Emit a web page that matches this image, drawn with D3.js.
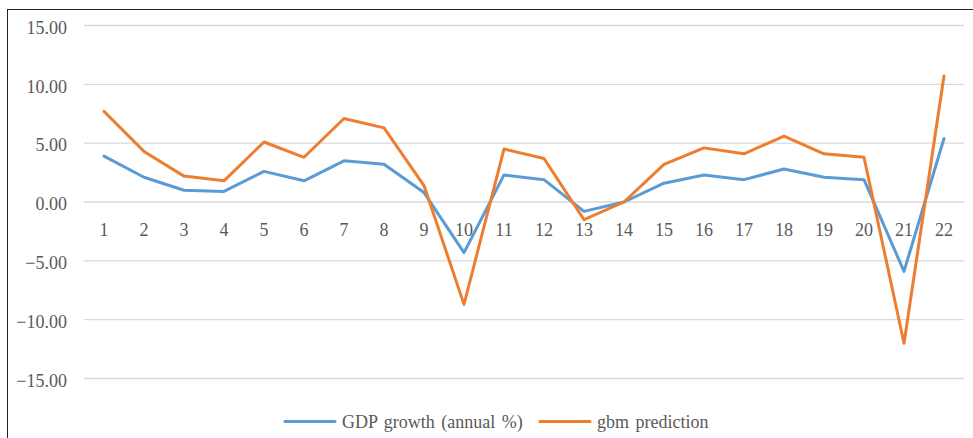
<!DOCTYPE html>
<html>
<head>
<meta charset="utf-8">
<script src="https://cdn.jsdelivr.net/npm/d3@7"></script>
<style>
  body { margin: 0; background: #fff; }
  svg text { font-family: "Liberation Serif", "DejaVu Serif", serif; fill: #595959; }
</style>
</head>
<body>
<div id="chart"></div>
<script>
// GDP growth vs gbm prediction, 22 periods
const categories = d3.range(1, 23).map(String);
const gdpGrowth = [3.9, 2.1, 1.0, 0.9, 2.6, 1.8, 3.5, 3.2, 0.8, -4.3, 2.3, 1.9, -0.8, 0.0, 1.6, 2.3, 1.9, 2.8, 2.1, 1.9, -5.9, 5.4];
const gbmPrediction = [7.7, 4.3, 2.2, 1.8, 5.1, 3.8, 7.1, 6.3, 1.4, -8.7, 4.5, 3.7, -1.5, 0.0, 3.2, 4.6, 4.1, 5.6, 4.1, 3.8, -12.0, 10.7];
const yTicks = [-15, -10, -5, 0, 5, 10, 15];
const seriesNames = ["GDP growth (annual %)", "gbm prediction"];
const colors = ["#5b9bd5", "#ed7d31"];

const W = 973, H = 438;
const svg = d3.select("#chart").append("svg").attr("width", W).attr("height", H);

// outer frame (right/bottom edges run off the picture)
svg.append("rect").attr("x", 7.5).attr("y", 9.5).attr("width", W).attr("height", H)
  .attr("fill", "none").attr("stroke", "#222").attr("stroke-width", 1);

const x = d3.scaleBand().domain(categories).range([84, 964]);
const y = d3.scaleLinear().domain([-15, 15]).range([378.5, 25.5]);

// gridlines
svg.append("g").selectAll("line").data(yTicks).join("line")
  .attr("x1", 84).attr("x2", 964)
  .attr("y1", d => y(d)).attr("y2", d => y(d))
  .attr("stroke", "#d9d9d9").attr("stroke-width", 1.3);

// y labels
svg.append("g").selectAll("text").data(yTicks).join("text")
  .attr("x", 67).attr("y", d => y(d) + 2).attr("dy", "0.35em")
  .attr("text-anchor", "end").attr("font-size", 18)
  .text(d => d3.format(".2f")(d));

// category labels sit just below the zero line
svg.append("g").selectAll("text").data(categories).join("text")
  .attr("x", d => x(d) + x.bandwidth() / 2).attr("y", y(0) + 34)
  .attr("text-anchor", "middle").attr("font-size", 18)
  .text(d => d);

const line = d3.line()
  .x((d, i) => x(categories[i]) + x.bandwidth() / 2)
  .y(d => y(d));

[gdpGrowth, gbmPrediction].forEach((vals, k) => {
  svg.append("path").datum(vals).attr("d", line)
    .attr("fill", "none").attr("stroke", colors[k]).attr("stroke-width", 3)
    .attr("stroke-linejoin", "round").attr("stroke-linecap", "round");
});

// legend
const legendX = [285, 540];
const lg = svg.append("g").selectAll("g").data(seriesNames).join("g")
  .attr("transform", (d, i) => `translate(${legendX[i]},421.5)`);
lg.append("line").attr("x1", 0).attr("x2", 50)
  .attr("stroke", (d, i) => colors[i]).attr("stroke-width", 3).attr("stroke-linecap", "round");
lg.append("text").attr("x", 57).attr("dy", "0.35em").attr("font-size", 18)
  .attr("word-spacing", 2)
  .text(d => d);
</script>
</body>
</html>
